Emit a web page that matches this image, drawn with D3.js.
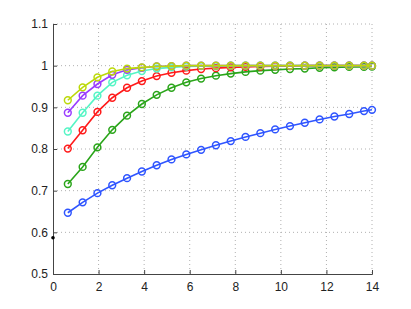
<!DOCTYPE html>
<html>
<head>
<meta charset="utf-8">
<script src="https://cdn.jsdelivr.net/npm/d3@7"></script>
<style>
  body { margin: 0; background: #fff; }
  text { font-family: "Liberation Sans", Arial, sans-serif; font-size: 12px; fill: #222; }
</style>
</head>
<body>
<svg id="chart" width="411" height="309"></svg>
<script>
// sample positions along x
const xs = [0.65, 1.3, 1.95, 2.6, 3.25, 3.9, 4.55, 5.2, 5.85, 6.5, 7.15, 7.8,
            8.45, 9.1, 9.75, 10.4, 11.05, 11.7, 12.35, 13, 13.65, 14];

const blue   = [0.647, 0.672, 0.694, 0.713, 0.730, 0.746, 0.761, 0.775, 0.787, 0.798, 0.809,
                0.819, 0.829, 0.838, 0.847, 0.855, 0.863, 0.871, 0.878, 0.884, 0.891, 0.894];
const green  = [0.716, 0.757, 0.804, 0.846, 0.880, 0.908, 0.930, 0.947, 0.960, 0.969, 0.976,
                0.981, 0.985, 0.988, 0.990, 0.992, 0.993, 0.995, 0.996, 0.997, 0.997, 0.998];
const red    = [0.801, 0.845, 0.889, 0.923, 0.947, 0.963, 0.975, 0.983, 0.988, 0.992, 0.994,
                0.996, 0.997, 0.998, 0.999, 0.999, 1.0, 1.0, 1.0, 1.0, 1.0, 1.0];
const cyan   = [0.842, 0.887, 0.928, 0.960, 0.977, 0.987, 0.993, 0.996, 0.998, 0.999, 0.999,
                1.0, 1.0, 1.0, 1.0, 1.0, 1.0, 1.0, 1.0, 1.0, 1.0, 1.0];
const purple = [0.887, 0.928, 0.956, 0.978, 0.990, 0.995, 0.998, 0.999, 1.0, 1.0, 1.0,
                1.0, 1.0, 1.0, 1.0, 1.0, 1.0, 1.0, 1.0, 1.0, 1.0, 1.0];
const yellow = [0.917, 0.948, 0.972, 0.986, 0.993, 0.996, 0.998, 0.999, 1.0, 1.0, 1.0,
                1.0, 1.0, 1.0, 1.0, 1.0, 1.0, 1.0, 1.0, 1.0, 1.0, 1.0];

const seriesList = [
    { values: blue,   color: "#2f55ff" },
    { values: green,  color: "#2aa51a" },
    { values: red,    color: "#ff1a1a" },
    { values: cyan,   color: "#55f5c5" },
    { values: purple, color: "#9a3cff" },
    { values: yellow, color: "#bcd90a" }
];

const lonePoint = { x: 0, y: 0.587 };

const xTicks = [0, 2, 4, 6, 8, 10, 12, 14];
const yTicks = [0.5, 0.6, 0.7, 0.8, 0.9, 1, 1.1];

const svg = d3.select("#chart");
const plotL = 53, plotR = 372, plotT = 24, plotB = 274;

const x = d3.scaleLinear().domain([0, 14]).range([plotL, plotR]);
const y = d3.scaleLinear().domain([0.5, 1.1]).range([plotB, plotT]);

// Dotted grid
const grid = svg.append("g").attr("stroke", "#b0b0b0").attr("stroke-dasharray", "1,3").attr("stroke-width", 1);
grid.selectAll("line.gx").data(xTicks.slice(1)).enter().append("line")
    .attr("x1", d => x(d)).attr("x2", d => x(d)).attr("y1", plotT).attr("y2", plotB);
grid.selectAll("line.gy").data(yTicks.slice(1)).enter().append("line")
    .attr("y1", d => y(d)).attr("y2", d => y(d)).attr("x1", plotL).attr("x2", plotR);

// Axes (ticks pointing inward)
const xAxis = svg.append("g").attr("transform", `translate(0,${plotB})`)
    .call(d3.axisBottom(x).tickValues(xTicks).tickSize(-4).tickPadding(8).tickFormat(d3.format("d")));
const yAxis = svg.append("g").attr("transform", `translate(${plotL},0)`)
    .call(d3.axisLeft(y).tickValues(yTicks).tickSize(-4).tickPadding(5).tickFormat(d => d === 1 ? "1" : d3.format(".1f")(d)));

[xAxis, yAxis].forEach(a => {
    a.select(".domain").attr("stroke", "#444");
    a.selectAll(".tick line").attr("stroke", "#444");
    a.selectAll("text").attr("font-size", 12).attr("fill", "#222")
        .attr("font-family", "'Liberation Sans', Arial, sans-serif");
});

// Lines with open circle markers
const line = d3.line().x((d, i) => x(xs[i])).y(d => y(d));

seriesList.forEach(s => {
    svg.append("path")
        .datum(s.values)
        .attr("fill", "none")
        .attr("stroke", s.color)
        .attr("stroke-width", 1.6)
        .attr("d", line);
    svg.append("g").selectAll("circle").data(s.values).enter().append("circle")
        .attr("cx", (d, i) => x(xs[i]))
        .attr("cy", d => y(d))
        .attr("r", 3.4)
        .attr("fill", "none")
        .attr("stroke", s.color)
        .attr("stroke-width", 1.5);
});

// Single black point at x = 0
svg.append("circle")
    .attr("cx", x(lonePoint.x)).attr("cy", y(lonePoint.y))
    .attr("r", 1.8).attr("fill", "#000");
</script>
</body>
</html>
